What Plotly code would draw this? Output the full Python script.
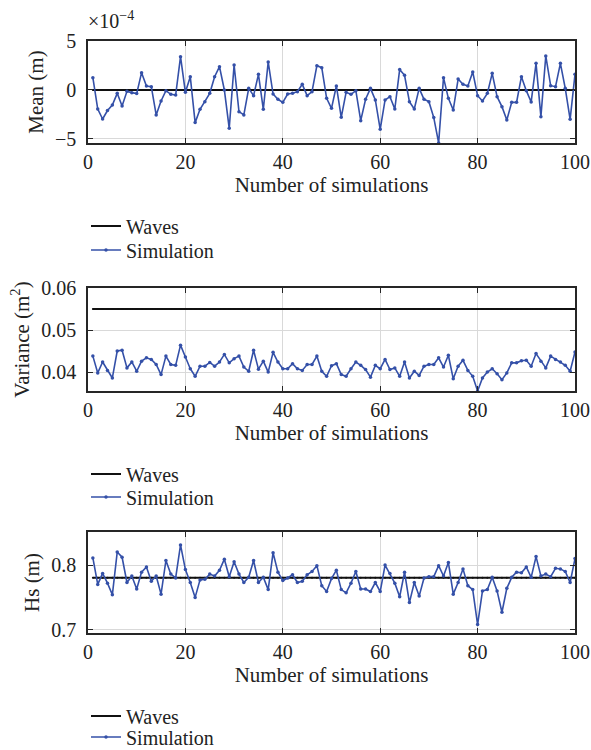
import plotly.graph_objects as go

simulations = list(range(1, 101))

# Mean of surface elevation, in units of 1e-4 m
mean_e4 = [1.26, -1.94, -2.96, -2.10, -1.53, -0.34, -1.63, -0.14, -0.27, -0.37,
           1.77, 0.41, 0.34, -2.55, -1.12, -0.07, -0.44, -0.51, 3.40, -0.24,
           1.36, -3.33, -1.97, -1.19, -0.34, 1.36, 2.38, 0.00, -3.91, 2.55,
           -2.21, -2.55, 0.17, -0.58, 1.60, -1.97, 2.86, -0.41, -0.95, -1.26,
           -0.41, -0.34, -0.17, 0.58, -0.58, -0.17, 2.48, 2.28, -0.85, -1.87,
           0.41, -2.79, -0.24, -0.44, -0.07, -3.13, -0.95, 0.17, -1.02, -4.01,
           -1.02, -0.68, -1.94, 2.10, 1.50, -1.19, -1.94, 0.17, -0.95, -1.19,
           -2.82, -5.40, 1.26, -0.85, -2.04, 1.12, 0.58, 0.41, 1.84, -0.58,
           -1.12, -0.34, 1.70, -0.68, -1.70, -3.06, -1.26, -1.26, 1.36, -0.07,
           -1.22, 2.72, -2.72, 3.47, 0.44, 0.34, 2.72, 0.17, -2.99, 1.60]

variance = [0.0438, 0.0398, 0.0424, 0.0404, 0.0386, 0.0450, 0.0452, 0.0410, 0.0424, 0.0402,
            0.0426, 0.0434, 0.0430, 0.0418, 0.0394, 0.0438, 0.0418, 0.0416, 0.0464, 0.0436,
            0.0408, 0.0390, 0.0414, 0.0414, 0.0423, 0.0414, 0.0424, 0.0442, 0.0422, 0.0432,
            0.0438, 0.0412, 0.0402, 0.0452, 0.0407, 0.0426, 0.0400, 0.0447, 0.0424, 0.0408,
            0.0408, 0.0420, 0.0408, 0.0404, 0.0418, 0.0418, 0.0438, 0.0402, 0.0390, 0.0415,
            0.0420, 0.0394, 0.0390, 0.0408, 0.0424, 0.0416, 0.0406, 0.0388, 0.0416, 0.0408,
            0.0430, 0.0406, 0.0410, 0.0390, 0.0424, 0.0386, 0.0402, 0.0392, 0.0414, 0.0418,
            0.0418, 0.0434, 0.0412, 0.0440, 0.0384, 0.0414, 0.0428, 0.0404, 0.0390, 0.0355,
            0.0386, 0.0400, 0.0408, 0.0396, 0.0382, 0.0398, 0.0422, 0.0422, 0.0427, 0.0428,
            0.0414, 0.0444, 0.0426, 0.0410, 0.0438, 0.0430, 0.0424, 0.0416, 0.0402, 0.0448]

hs = [0.811, 0.770, 0.787, 0.772, 0.754, 0.820, 0.812, 0.773, 0.783, 0.763,
      0.789, 0.797, 0.775, 0.783, 0.755, 0.807, 0.786, 0.780, 0.831, 0.793,
      0.773, 0.750, 0.777, 0.778, 0.786, 0.783, 0.792, 0.809, 0.782, 0.805,
      0.786, 0.773, 0.781, 0.807, 0.773, 0.781, 0.762, 0.819, 0.789, 0.776,
      0.780, 0.785, 0.773, 0.775, 0.785, 0.790, 0.799, 0.768, 0.759, 0.779,
      0.792, 0.762, 0.757, 0.772, 0.790, 0.763, 0.763, 0.759, 0.773, 0.759,
      0.800, 0.787, 0.772, 0.751, 0.789, 0.742, 0.773, 0.752, 0.780, 0.782,
      0.782, 0.799, 0.783, 0.804, 0.755, 0.773, 0.794, 0.768, 0.762, 0.708,
      0.760, 0.762, 0.781, 0.760, 0.727, 0.764, 0.781, 0.789, 0.788, 0.797,
      0.781, 0.813, 0.783, 0.786, 0.782, 0.795, 0.794, 0.790, 0.773, 0.810]

waves_mean_e4 = 0.0
waves_variance = 0.055
waves_hs = 0.7805

x_ticks = [0, 20, 40, 60, 80, 100]

FONT = "Liberation Serif"
FS = 21
TFS = 20
BLUE = "#3450a8"
AX = "#262626"
TXT = "#222222"

W, H = 591, 750
def px(x):
    return x / W
def py(y):
    return 1 - y / H

fig = go.Figure()

panels = [
    ("x", "y", mean_e4, waves_mean_e4, "legend", "legend2"),
    ("x2", "y2", variance, waves_variance, "legend3", "legend4"),
    ("x3", "y3", hs, waves_hs, "legend5", "legend6"),
]
for xa, ya, sim, wav, leg_w, leg_s in panels:
    fig.add_trace(go.Scatter(
        x=simulations, y=[wav] * len(simulations), xaxis=xa, yaxis=ya,
        mode="lines+markers", name="Waves", legend=leg_w,
        line=dict(color="#111111", width=2), marker=dict(size=2, color="#111111")))
    fig.add_trace(go.Scatter(
        x=simulations, y=sim, xaxis=xa, yaxis=ya,
        mode="lines+markers", name="Simulation", legend=leg_s,
        line=dict(color=BLUE, width=1.6), marker=dict(size=3.5, color=BLUE)))

xdom = [px(88), px(575)]
common_x = dict(range=[0, 100], tickvals=x_ticks, showgrid=True, gridcolor="#d9d9d9",
                gridwidth=1, zeroline=False, ticks="inside", ticklen=5, tickcolor=AX,
                showline=True, linecolor=AX, linewidth=1.5, mirror="ticks",
                automargin=False,
                tickfont=dict(family=FONT, size=TFS, color=TXT),
                title=dict(text="Number of simulations", font=dict(family=FONT, size=FS, color=TXT), standoff=0),
                domain=xdom)
common_y = dict(showgrid=True, gridcolor="#d9d9d9", gridwidth=1, zeroline=False,
                ticks="inside", ticklen=5, tickcolor=AX, showline=True, linecolor=AX,
                linewidth=1.5, mirror="ticks", ticklabelstandoff=6, automargin=False,
                tickfont=dict(family=FONT, size=TFS, color=TXT))

fig.update_layout(
    width=W, height=H, plot_bgcolor="white", paper_bgcolor="white",
    margin=dict(l=0, r=0, t=0, b=0, autoexpand=False),
    font=dict(family=FONT, size=FS, color=TXT),
    xaxis=dict(common_x, anchor="y"),
    xaxis2=dict(common_x, anchor="y2"),
    xaxis3=dict(common_x, anchor="y3"),
    yaxis=dict(common_y, anchor="x", domain=[py(143), py(41)], range=[-5.41, 5],
               tickvals=[-5, 0, 5], ticktext=["−5", "0", "5"],
               title=dict(text="Mean (m)", font=dict(family=FONT, size=FS, color=TXT), standoff=6)),
    yaxis2=dict(common_y, anchor="x2", domain=[py(391), py(288)], range=[0.0355, 0.06],
                tickvals=[0.04, 0.05, 0.06], ticktext=["0.04", "0.05", "0.06"],
                title=dict(text="Variance (m<sup>2</sup>)", font=dict(family=FONT, size=FS, color=TXT), standoff=6)),
    yaxis3=dict(common_y, anchor="x3", domain=[py(633), py(532)], range=[0.695, 0.851],
                tickvals=[0.7, 0.8], ticktext=["0.7", "0.8"],
                title=dict(text="Hs (m)", font=dict(family=FONT, size=FS, color=TXT), standoff=6)),
    showlegend=True,
)

leg_common = dict(xanchor="left", yanchor="middle", bgcolor="rgba(0,0,0,0)",
                  font=dict(family=FONT, size=20, color=TXT), tracegroupgap=0,
                  itemwidth=30)
legend_rows = [226, 250, 474, 497, 716, 737]
fig.update_layout(**{
    ("legend" if k == 0 else f"legend{k + 1}"): dict(leg_common, x=px(86), y=py(yy))
    for k, yy in enumerate(legend_rows)
})

fig.add_annotation(text="×10<sup>−4</sup>", xref="paper", yref="paper",
                   x=px(86), y=py(20), xanchor="left", yanchor="middle",
                   showarrow=False, font=dict(family=FONT, size=TFS, color=TXT))

fig.write_html("out.html", config={"displayModeBar": False},
               post_script="document.body.style.margin='0';")
